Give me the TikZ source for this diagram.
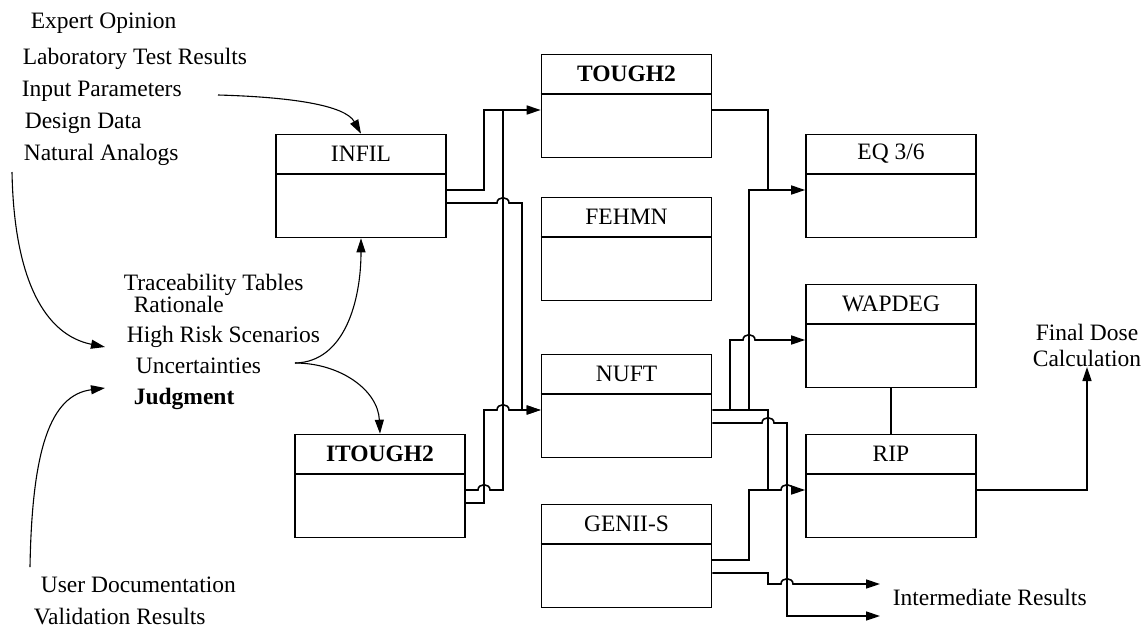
\documentclass[tikz,border=0pt]{standalone}
\usepackage{fontspec}
\setmainfont{Liberation Serif}
\usetikzlibrary{arrows.meta}

\tikzset{
  modbox/.style={draw, minimum width=170pt, minimum height=103pt, inner sep=0pt},
  lbl/.style={anchor=base west, inner sep=0pt},
  curvy/.style={line width=1.1pt},
}
% box with a title band
\newcommand{\modbox}[3]{%
  \node[modbox] (#1) at (#2) {};
  \draw ([yshift=-40pt]#1.north west) -- ([yshift=-40pt]#1.north east);
  \node (#1-t) at ([yshift=-20pt]#1.north) {#3};
}
% small bump where a line crosses another
\newcommand{\linehop}[2]{-- (#1-6,#2) .. controls (#1-6,#2-7) and (#1+6,#2-7) .. (#1+6,#2)}

\begin{document}
\begin{tikzpicture}[x=1pt, y=-1pt, line width=1.6pt, >={Triangle[length=14pt,width=9pt]},
  font=\fontsize{23.5}{26}\selectfont]
\useasboundingbox (0,0) rectangle (1145,630);

% inputs
\node[lbl] (expert) at (30,28) {Expert Opinion};
\node[lbl] (lab) at (22,64) {Laboratory Test Results};
\node[lbl] (inparam) at (21,96) {Input Parameters};
\node[lbl] (design) at (24,128) {Design Data};
\node[lbl] (natan) at (23,160) {Natural Analogs};

\node[lbl] (trace) at (123,290) {Traceability Tables};
\node[lbl] (ratio) at (133,312) {Rationale};
\node[lbl] (hirisk) at (126,342) {High Risk Scenarios};
\node[lbl] (uncert) at (135,373) {Uncertainties};
\node[lbl] (judg) at (133,404) {\textbf{Judgment}};

\node[lbl] (userdoc) at (40,592) {User Documentation};
\node[lbl] (valid) at (33,624) {Validation Results};

\coordinate (inparam-o) at (218,95);
\coordinate (natan-o) at (12,172);
\coordinate (userdoc-o) at (30,567);
\coordinate (judg-i1) at (105,347);
\coordinate (judg-i2) at (105,388);
\coordinate (judg-o) at (295,363);

% models
\modbox{infil}{361,186}{INFIL}
\modbox{tough2}{626.5,106}{\textbf{TOUGH2}}
\modbox{fehmn}{626.5,249}{FEHMN}
\modbox{nuft}{626.5,406}{NUFT}
\modbox{genii}{626.5,556}{GENII-S}
\modbox{itough2}{380,486}{\textbf{ITOUGH2}}
\modbox{eq}{891,186}{EQ 3/6}
\modbox{wapdeg}{891,336}{WAPDEG}
\modbox{rip}{891,486}{RIP}

% outputs
\node (fdose) at (1087,345) [align=center, inner sep=0pt] {Final Dose\\Calculation};
\node[lbl] (inter) at (892,605) {Intermediate Results};
\coordinate (ir1) at (880,584);
\coordinate (ir2) at (880,616);

% curved arrows
\draw[curvy,->] (inparam-o) .. controls (290,97) and (345,105) .. (infil.north);
\draw[curvy,->] (natan-o) .. controls (14,280) and (45,335) .. (judg-i1);
\draw[curvy,->] (userdoc-o) .. controls (32,450) and (50,395) .. (judg-i2);
\draw[curvy,->] (judg-o) .. controls (345,362) and (361,300) .. (infil.south);
\draw[curvy,->] (judg-o) .. controls (340,363) and (378,390) .. (itough2.north);

% INFIL and ITOUGH2 to TOUGH2 and NUFT
\draw[->] ([yshift=-4pt]infil.east) -| (484,110) -- ([yshift=-4pt]tough2.west);
\draw[->] ([yshift=-17pt]infil.east) \linehop{503}{203} -| (522,410) -- ([yshift=-4pt]nuft.west);
\draw ([yshift=-4pt]itough2.east) \linehop{484}{490} -| (503,110);
\draw[->] ([yshift=-17pt]itough2.east) -| (484,410) \linehop{503}{410} -- ([yshift=-4pt]nuft.west);

% TOUGH2, NUFT and GENII-S onwards
\coordinate (nb1) at (730,410);
\coordinate (nb2) at (749,410);
\draw[->] ([yshift=-4pt]tough2.east) -| (768,190) -- ([yshift=-4pt]eq.west);
\draw[->] ([yshift=-4pt]nuft.east) -| (768,490) \linehop{787}{490} -- ([yshift=-4pt]rip.west);
\draw[->] (nb1) -- (730,340) \linehop{749}{340} -- ([yshift=-4pt]wapdeg.west);
\draw (nb2) |- (768,190);
\draw[->] ([yshift=-17pt]nuft.east) \linehop{768}{423} -| (787,616) -- (ir2);
\draw ([yshift=-4pt]genii.east) -| (749,490) -- (768,490);
\draw[->] ([yshift=-17pt]genii.east) -| (768,584) \linehop{787}{584} -- (ir1);

\draw (wapdeg.south) -- (rip.north);
\draw[->] ([yshift=-4pt]rip.east) -| (fdose.south);

\end{tikzpicture}
\end{document}
